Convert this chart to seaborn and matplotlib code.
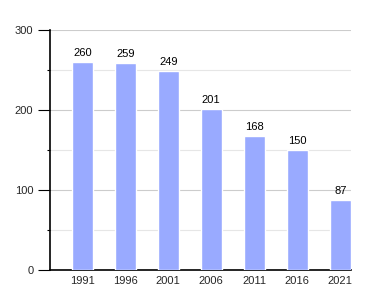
import matplotlib
matplotlib.use("Agg")
import matplotlib.pyplot as plt
import seaborn as sns
import pandas as pd
from matplotlib.ticker import MultipleLocator

years = ["1991", "1996", "2001", "2006", "2011", "2016", "2021"]
values = [260, 259, 249, 201, 168, 150, 87]

df = pd.DataFrame({"year": years, "value": values})

sns.set_style("white")
plt.rcParams['font.family'] = ['Liberation Sans', 'DejaVu Sans']

fig = plt.figure(figsize=(3.8, 3.0), dpi=100)
ax = fig.add_axes([50/380, 30/300, 301/380, 240/300])

sns.barplot(data=df, x="year", y="value", color="#99aaff", saturation=1, width=0.49, ax=ax, zorder=3)

ax.set_xlim(-0.75, 6.25)
ax.set_ylim(0, 300)
ax.yaxis.set_major_locator(MultipleLocator(100))
ax.yaxis.set_minor_locator(MultipleLocator(50))
ax.grid(True, which="major", axis="y", color="#cccccc", linewidth=0.8, zorder=0)
ax.grid(True, which="minor", axis="y", color="#e6e6e6", linewidth=0.8, zorder=0)
ax.set_axisbelow(True)

for s in ["top", "right"]:
    ax.spines[s].set_visible(False)
for s in ["left", "bottom"]:
    ax.spines[s].set_color("black")
    ax.spines[s].set_linewidth(1.2)

ax.tick_params(axis="y", which="major", length=9, width=0.8, color="black", labelsize=8, pad=3, left=True)
ax.tick_params(axis="y", which="minor", length=2, width=0.8, color="black", left=True)
ax.tick_params(axis="x", length=0, labelsize=8, pad=4)
ax.set_xlabel("")
ax.set_ylabel("")

for i, v in enumerate(values):
    ax.text(i, v + 5, str(v), ha="center", va="bottom", fontsize=8, color="black")

fig.savefig("out.png", dpi=100)
